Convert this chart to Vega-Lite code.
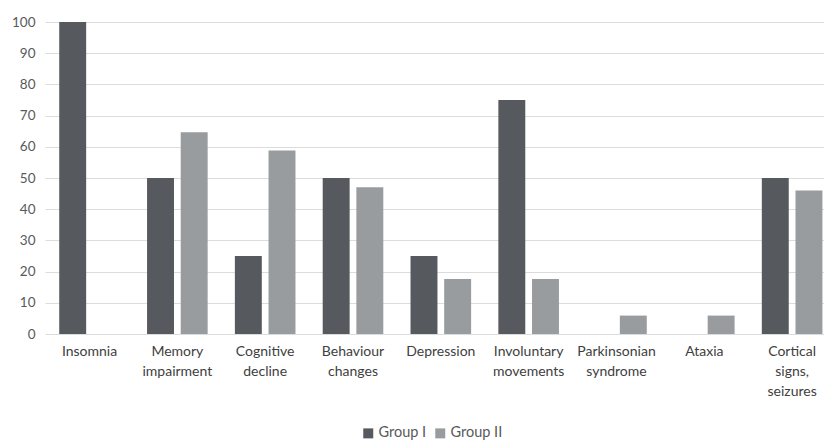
{
  "$schema": "https://vega.github.io/schema/vega-lite/v6.json",
  "width": 779,
  "height": 312,
  "autosize": "none",
  "padding": {"left": 45, "top": 22, "right": 0, "bottom": 111},
  "background": "white",
  "config": {
    "view": {"stroke": null},
    "font": "Lato",
    "axis": {"labelFont": "Lato", "labelColor": "#595959"},
    "legend": {"labelFont": "Lato", "labelColor": "#595959"}
  },
  "data": {
    "values": [
      {"symptom": "Insomnia", "group": "Group I", "value": 100},
      {"symptom": "Insomnia", "group": "Group II", "value": 0},
      {"symptom": "Memory impairment", "group": "Group I", "value": 50},
      {"symptom": "Memory impairment", "group": "Group II", "value": 64.7},
      {"symptom": "Cognitive decline", "group": "Group I", "value": 25},
      {"symptom": "Cognitive decline", "group": "Group II", "value": 58.8},
      {"symptom": "Behaviour changes", "group": "Group I", "value": 50},
      {"symptom": "Behaviour changes", "group": "Group II", "value": 47},
      {"symptom": "Depression", "group": "Group I", "value": 25},
      {"symptom": "Depression", "group": "Group II", "value": 17.6},
      {"symptom": "Involuntary movements", "group": "Group I", "value": 75},
      {"symptom": "Involuntary movements", "group": "Group II", "value": 17.6},
      {"symptom": "Parkinsonian syndrome", "group": "Group I", "value": 0},
      {"symptom": "Parkinsonian syndrome", "group": "Group II", "value": 5.9},
      {"symptom": "Ataxia", "group": "Group I", "value": 0},
      {"symptom": "Ataxia", "group": "Group II", "value": 5.9},
      {"symptom": "Cortical signs, seizures", "group": "Group I", "value": 50},
      {"symptom": "Cortical signs, seizures", "group": "Group II", "value": 46}
    ]
  },
  "mark": {"type": "bar"},
  "encoding": {
    "x": {
      "field": "symptom",
      "type": "nominal",
      "sort": null,
      "title": null,
      "scale": {"paddingInner": 0.31, "paddingOuter": 0.09, "align": 0.9},
      "axis": {
        "labelAngle": 0,
        "labelExpr": "split(datum.label, ' ')",
        "labelFontSize": 14,
        "labelLineHeight": 20,
        "labelPadding": 10,
        "ticks": false,
        "domain": false,
        "labelColor": "#404040"
      }
    },
    "xOffset": {
      "field": "group",
      "type": "nominal",
      "scale": {"paddingInner": 0.2, "paddingOuter": 0}
    },
    "y": {
      "field": "value",
      "type": "quantitative",
      "title": null,
      "scale": {"domain": [0, 100], "nice": false},
      "axis": {
        "values": [0, 10, 20, 30, 40, 50, 60, 70, 80, 90, 100],
        "labelFontSize": 13.5,
        "labelPadding": 10,
        "ticks": false,
        "domain": false,
        "gridColor": "#dcdcdc",
        "gridWidth": 1
      }
    },
    "color": {
      "field": "group",
      "type": "nominal",
      "scale": {"domain": ["Group I", "Group II"], "range": ["#56595e", "#989c9f"]},
      "legend": {
        "title": null,
        "orient": "none",
        "direction": "horizontal",
        "legendX": 316,
        "legendY": 404,
        "symbolType": "square",
        "symbolSize": 100,
        "symbolStrokeWidth": 0,
        "labelFontSize": 14.5,
        "labelOffset": 3,
        "columnPadding": 6
      }
    }
  }
}
